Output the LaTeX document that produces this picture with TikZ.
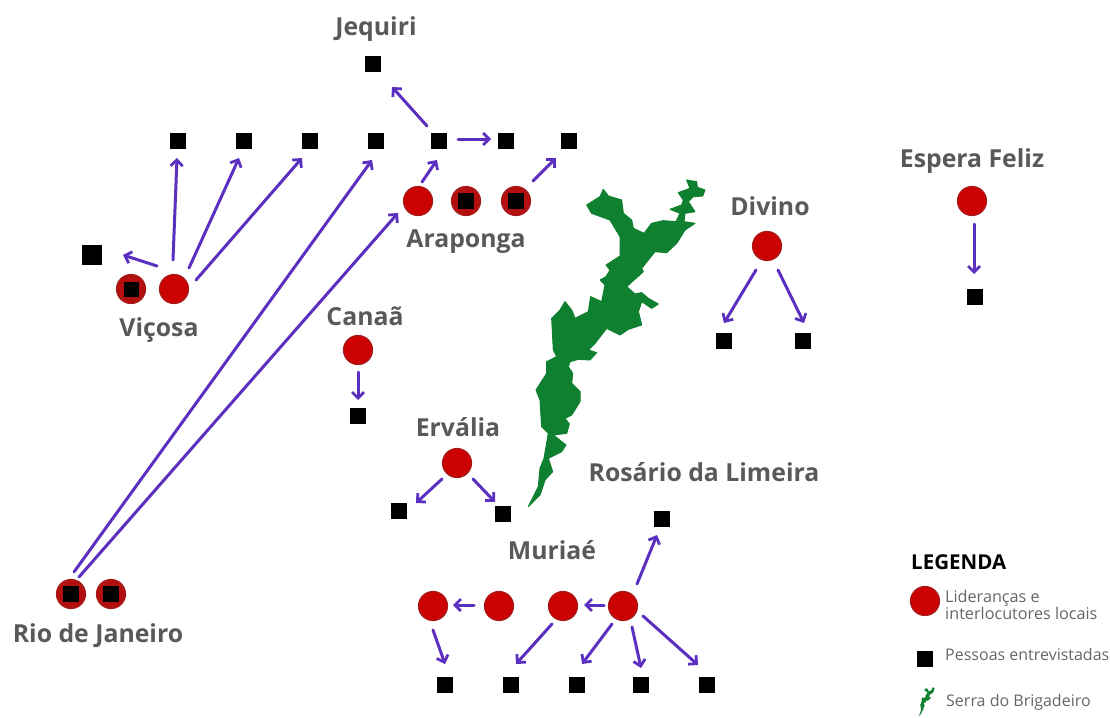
\documentclass[tikz,border=0pt]{standalone}
\usepackage{fontspec}
\setmainfont{Open Sans}
\usetikzlibrary{arrows.meta,calc}
\definecolor{lead}{HTML}{CC0202}
\definecolor{leadring}{HTML}{A81A1A}
\definecolor{leaddark}{HTML}{B30F0F}
\definecolor{violet}{HTML}{5B2FBF}
\definecolor{serra}{HTML}{0E8030}
\definecolor{label}{HTML}{58595B}
\definecolor{legtext}{HTML}{666666}
\tikzset{
  leader/.style={circle,fill=lead,draw=leadring,line width=1.2pt,minimum size=29pt,inner sep=0pt,outer sep=0pt},
  leaderb/.style={leader,fill=leaddark},
  person/.style={rectangle,fill=black,minimum size=16pt,inner sep=0pt,outer sep=0pt},
  place/.style={text=label,font=\bfseries\fontsize{24.8}{28}\selectfont,inner sep=0pt},
  legendtxt/.style={text=legtext,font=\fontsize{16}{17}\selectfont,inner sep=0pt,anchor=west,align=left},
  link/.style={draw=violet,line width=3pt,line cap=round,-{Straight Barb[length=6pt,width=12pt,line width=2.8pt]}}
}
\newcommand{\conn}[6]{\draw[link] ($(#1)+(#2,#3)$) -- ($(#4)+(#5,#6)$);}
\def\serrapath{(200,105) -- (240,80) -- (250,58) -- (265,78) -- (305,90) -- (310,130) -- (335,150) -- (340,175) -- (372,190) -- (395,160) -- (430,152) -- (468,155) -- (480,130) -- (450,118) -- (485,105) -- (490,90) -- (475,68) -- (510,55) -- (500,30) -- (530,35) -- (532,52) -- (555,60) -- (548,78) -- (520,80) -- (505,95) -- (525,125) -- (495,130) -- (492,155) -- (525,160) -- (495,180) -- (470,220) -- (440,248) -- (405,245) -- (365,295) -- (370,305) -- (320,350) -- (345,372) -- (365,368) -- (385,385) -- (415,402) -- (395,415) -- (365,395) -- (355,425) -- (365,465) -- (325,478) -- (300,495) -- (260,475) -- (225,520) -- (205,540) -- (230,548) -- (210,570) -- (175,568) -- (150,575) -- (145,590) -- (158,610) -- (155,640) -- (180,665) -- (180,695) -- (155,735) -- (135,745) -- (148,762) -- (140,790) -- (100,795) -- (138,825) -- (125,845) -- (85,865) -- (98,905) -- (75,930) -- (60,975) -- (25,1010) -- (55,950) -- (60,895) -- (72,865) -- (85,790) -- (65,770) -- (60,690) -- (48,660) -- (80,610) -- (80,575) -- (110,560) -- (100,540) -- (95,445) -- (120,420) -- (135,395) -- (155,420) -- (165,445) -- (205,425) -- (212,380) -- (245,395) -- (255,345) -- (240,330) -- (258,320) -- (270,300) -- (258,285) -- (300,258) -- (300,200) -- (270,150) -- (215,130) -- cycle}
\begin{document}
\begin{tikzpicture}[x=1pt,y=-1pt]
\useasboundingbox (0,0) rectangle (1110,717);
% Serra do Brigadeiro
\begin{scope}[shift={(520,170)},scale=1/3]
  \fill[serra,draw=serra,line width=1pt,line join=round] \serrapath;
\end{scope}
% Leaders
\node[leader] (V2) at (174,289) {};
\node[leaderb] (V1) at (131,289) {};
\node[person,minimum size=15pt] (V1p) at (131,289) {};
\node[leader] (A1) at (418,201) {};
\node[leaderb] (A2) at (466,201) {};
\node[person] (A2p) at (466,201) {};
\node[leaderb] (A3) at (516,201) {};
\node[person] (A3p) at (516,201) {};
\node[leader] (D) at (767,246) {};
\node[leader] (E) at (972,201) {};
\node[leader] (C) at (358,350) {};
\node[leader] (Er) at (457,463) {};
\node[leader] (M1) at (433,606) {};
\node[leader] (M2) at (499,606) {};
\node[leader] (M3) at (563,606) {};
\node[leader] (M4) at (623,606) {};
\node[leaderb] (R1) at (71,594) {};
\node[person] (R1p) at (71,594) {};
\node[leaderb] (R2) at (111,594) {};
\node[person] (R2p) at (111,594) {};
% People
\node[person] (J) at (373,64) {};
\node[person] (S1) at (178,141) {};
\node[person] (S2) at (244,141) {};
\node[person] (S3) at (310,141) {};
\node[person] (S4) at (376,141) {};
\node[person] (S5) at (439,141) {};
\node[person] (S6) at (506,141) {};
\node[person] (S7) at (569,141) {};
\node[person,minimum size=20pt] (B) at (92,255) {};
\node[person] (D1) at (724,341) {};
\node[person] (D2) at (803,341) {};
\node[person] (Ep) at (975,297) {};
\node[person] (Cp) at (358,416) {};
\node[person] (Er1) at (399,511) {};
\node[person] (Er2) at (503,514) {};
\node[person] (MT) at (662,519) {};
\node[person] (B1) at (445,685) {};
\node[person] (B2) at (511,685) {};
\node[person] (B3) at (577,685) {};
\node[person] (B4) at (641,685) {};
\node[person] (B5) at (707,685) {};
% Links
\conn{V2}{-1}{-29}{S1}{-1}{17}
\conn{V2}{15}{-21}{S2}{-5}{17}
\conn{V2}{22}{-9}{S3}{-8}{17}
\conn{V2}{-17}{-23}{B}{31}{0}
\conn{R1}{3}{-22}{S4}{-4}{19}
\conn{R1}{8}{-17}{A1}{-20}{12}
\conn{A1}{4}{-19}{S5}{-2}{19}
\conn{A3}{17}{-20}{S7}{-13}{17}
\conn{S5}{19}{-2}{S6}{-15}{-2}
\conn{S5}{-12}{-15}{J}{19}{23}
\conn{D}{-11}{24}{D1}{0}{-18}
\conn{D}{11}{24}{D2}{1}{-18}
\conn{E}{2}{23}{Ep}{-1}{-23}
\conn{C}{0}{22}{Cp}{0}{-16}
\conn{Er}{-15}{16}{Er1}{17}{-8}
\conn{Er}{16}{16}{Er2}{-8}{-12}
\conn{M4}{14}{-22}{MT}{-5}{16}
\conn{M4}{-19}{-1}{M3}{21}{-1}
\conn{M2}{-25}{-1}{M1}{20}{-1}
\conn{M1}{0}{24}{B1}{0}{-21}
\conn{M3}{-11}{18}{B2}{5}{-21}
\conn{M4}{-11}{18}{B3}{5}{-21}
\conn{M4}{9}{21}{B4}{0}{-17}
\conn{M4}{20}{10}{B5}{-9}{-20}
% Place labels
\node[place] (tJ) at (376,29) {Jequiri};
\node[place] (tE) at (972,161) {Espera Feliz};
\node[place] (tD) at (770,206) {Divino};
\node[place] (tA) at (466,242) {Araponga};
\node[place] (tV) at (159,330) {Viçosa};
\node[place] (tC) at (365,316) {Canaã};
\node[place] (tEr) at (458,427) {Ervália};
\node[place] (tRL) at (704,472) {Rosário da Limeira};
\node[place] (tM) at (552,550) {Muriaé};
\node[place] (tR) at (98,636) {Rio de Janeiro};
% Legend
\node[inner sep=0pt,anchor=west,font=\bfseries\fontsize{20.5}{22}\selectfont,text=black] (lg) at (911,562) {LEGENDA};
\node[leader] (Lc) at (925,601) {};
\node[legendtxt,font=\fontsize{16.2}{17}\selectfont] (Lct) at (945,605) {Lideranças e\\interlocutores locais};
\node[person] (Ls) at (925,659) {};
\node[legendtxt] (Lst) at (945,654) {Pessoas entrevistadas};
\begin{scope}[shift={(919.3,687)},scale=0.027]
  \fill[serra,draw=serra,line width=0.7pt] \serrapath;
\end{scope}
\node[legendtxt] (Lmt) at (946,702) {Serra do Brigadeiro};
\end{tikzpicture}
\end{document}
